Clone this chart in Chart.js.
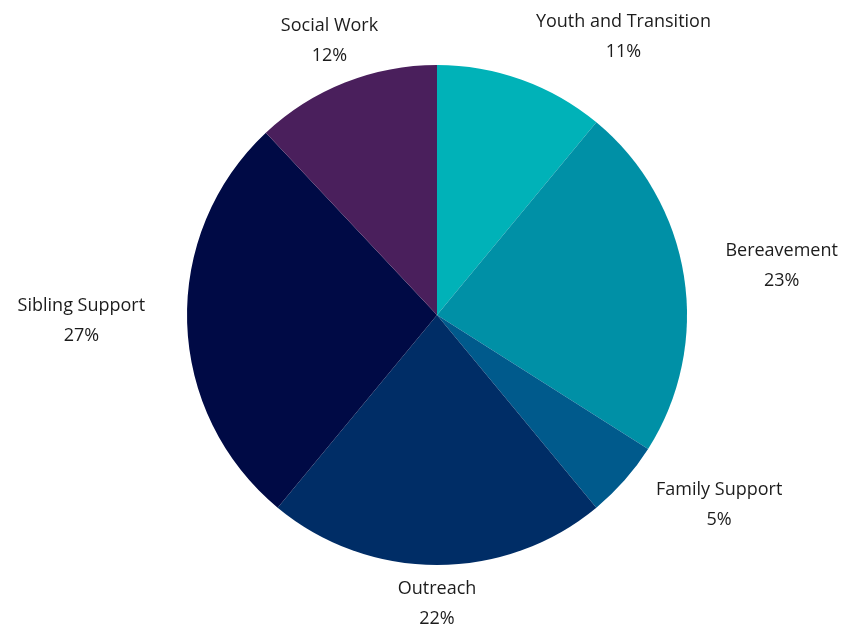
<!DOCTYPE html>
<html>
<head>
<meta charset="utf-8">
<script src="https://cdn.jsdelivr.net/npm/chart.js@4.4.0/dist/chart.umd.min.js"></script>
<style>
    html, body { margin: 0; padding: 0; background: #fff; }
    #wrap { width: 859px; height: 628px; }
</style>
</head>
<body>
<div id="wrap"><canvas id="pieChart" width="859" height="628"></canvas></div>
<script>
// Répartition par service (en %)
const labels = ['Youth and Transition', 'Bereavement', 'Family Support', 'Outreach', 'Sibling Support', 'Social Work'];
const values = [11, 23, 5, 22, 27, 12];
const colors = ['#00b2b8', '#0090a6', '#005a8c', '#002d66', '#000a45', '#4a1f5c'];

// Étiquettes à l'extérieur du camembert : nom + pourcentage
const outsideLabels = {
    id: 'outsideLabels',
    afterDatasetsDraw(chart) {
        const ctx = chart.ctx;
        const meta = chart.getDatasetMeta(0);
        ctx.save();
        ctx.font = '18px "Open Sans", sans-serif';
        ctx.fillStyle = '#1c1c1c';
        ctx.textBaseline = 'middle';
        meta.data.forEach((arc, i) => {
            const mid = (arc.startAngle + arc.endAngle) / 2;
            const r = arc.outerRadius + 42;
            const x = arc.x + Math.cos(mid) * r;
            const y = arc.y + Math.sin(mid) * r - 3;
            const line1 = labels[i];
            const line2 = values[i] + '%';
            const w = Math.max(ctx.measureText(line1).width, ctx.measureText(line2).width);
            const s = Math.cos(mid);
            let cx = x;
            if (s > 0.3) cx = x + w / 2;
            else if (s < -0.5) cx = x - w / 2;
            ctx.textAlign = 'center';
            ctx.fillText(line1, cx, y - 15);
            ctx.fillText(line2, cx, y + 15);
        });
        ctx.restore();
    }
};

new Chart(document.getElementById('pieChart'), {
    type: 'pie',
    data: {
        labels: labels,
        datasets: [{
            data: values,
            backgroundColor: colors,
            borderWidth: 0
        }]
    },
    options: {
        responsive: false,
        animation: false,
        layout: {
            padding: { top: 65, bottom: 63, left: 15, right: 0 }
        },
        plugins: {
            legend: { display: false },
            tooltip: { enabled: false }
        }
    },
    plugins: [outsideLabels]
});
</script>
</body>
</html>
